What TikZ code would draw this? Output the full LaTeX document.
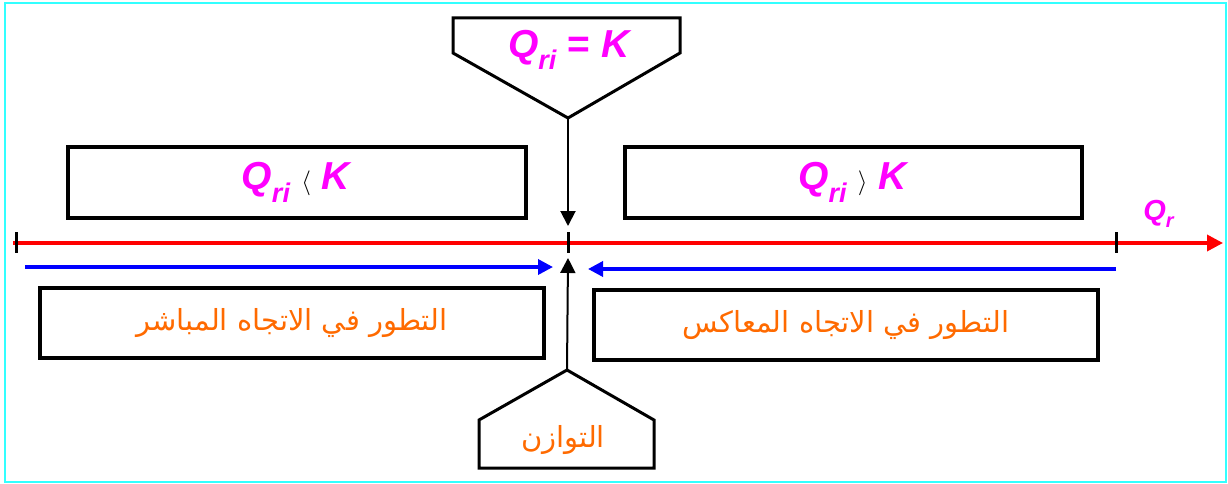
\documentclass[tikz,border=0pt]{standalone}
\usepackage{fontspec}
\setmainfont{Liberation Sans}
\newfontfamily\arabicfont[Script=Arabic]{DejaVu Sans}
\usetikzlibrary{arrows.meta}
\TeXXeTstate=1
\definecolor{qmag}{HTML}{FF00FF}
\definecolor{arorange}{HTML}{FF6A00}
\definecolor{bordercyan}{HTML}{33FFFF}
\newcommand{\Qsub}{\textit{Q}\raisebox{-0.32em}{\fontsize{27}{27}\selectfont\textit{ri}}}
\tikzset{
  frame/.style={draw=bordercyan, line width=2.5pt},
  boxnode/.style={draw=black, line width=3.5pt, inner sep=0pt},
  pent/.style={draw=black, line width=3pt, line join=miter},
  mathlbl/.style={text=qmag, font=\bfseries\fontsize{39}{42}\selectfont},
  arlbl/.style={text=arorange, font=\arabicfont\fontsize{29}{32}\selectfont},
  axisline/.style={draw=red, line width=3.5pt, -{Triangle[length=16pt,width=16pt]}},
  tick/.style={draw=black, line width=3pt},
  bluearrow/.style={draw=blue, line width=3.5pt, -{Triangle[length=15pt,width=15pt]}},
  blackarrow/.style={draw=black, line width=2pt, -{Triangle[length=15pt,width=15pt]}},
}
\begin{document}
\begin{tikzpicture}[x=1pt,y=-1pt]
\useasboundingbox (0,0) rectangle (1228,484);
\draw[frame] (5,3) rectangle (1226,482);

% top pentagon
\draw[pent] (453,18) -- (680,18) -- (680,53) -- (568,118) -- (453,53) -- cycle;
\coordinate (toptip) at (568,118);
\node[mathlbl] (eqlbl) at (570,50) {\Qsub\ = \textit{K}};

% upper boxes
\node[boxnode, minimum width=458pt, minimum height=71pt, mathlbl] (lbox) at (297,182.5)
  {\Qsub\ \textcolor{black}{\mdseries\fontsize{30}{30}\selectfont$\langle$}\ \textit{K}};
\node[boxnode, minimum width=457pt, minimum height=71pt, mathlbl] (rbox) at (853.5,182.5)
  {\Qsub\ \textcolor{black}{\mdseries\fontsize{30}{30}\selectfont$\rangle$}\ \textit{K}};

% axis
\coordinate (axstart) at (13,243);
\coordinate (axend) at (1223,243);
\draw[axisline] (axstart) -- (axend);
\coordinate (t1a) at (16,232); \coordinate (t1b) at (16,253);
\coordinate (t2a) at (568,232); \coordinate (t2b) at (568,253);
\coordinate (t3a) at (1116,232); \coordinate (t3b) at (1116,253);
\draw[tick] (t1a) -- (t1b);
\draw[tick] (t2a) -- (t2b);
\draw[tick] (t3a) -- (t3b);
\node[text=qmag, font=\bfseries\fontsize{29}{30}\selectfont] (qr) at (1159,214)
  {\textit{Q}\raisebox{-0.25em}{\fontsize{20}{20}\selectfont\textit{r}}};

% arrows to equilibrium point
\coordinate (toparrowend) at (568,226);
\draw[blackarrow] (toptip) -- (toparrowend);
\coordinate (bottip) at (567,370);
\coordinate (botarrowend) at (568,258);
\draw[blackarrow] (bottip) -- (botarrowend);

% blue arrows
\coordinate (bl1) at (25,267); \coordinate (bl2) at (553,267);
\coordinate (br1) at (1116,269); \coordinate (br2) at (588,269);
\draw[bluearrow] (bl1) -- (bl2);
\draw[bluearrow] (br1) -- (br2);

% lower boxes
\node[boxnode, minimum width=504pt, minimum height=70pt, arlbl] (llow) at (292,323)
  {\beginR التطور في الاتجاه المباشر\endR};
\node[boxnode, minimum width=504pt, minimum height=70pt, arlbl] (rlow) at (846,325)
  {\beginR التطور في الاتجاه المعاكس\endR};

% bottom pentagon
\draw[pent] (bottip) -- (654,420) -- (654,468) -- (479,468) -- (479,420) -- cycle;
\node[arlbl] (eqar) at (563,440) {\beginR التوازن\endR};
\end{tikzpicture}
\end{document}
